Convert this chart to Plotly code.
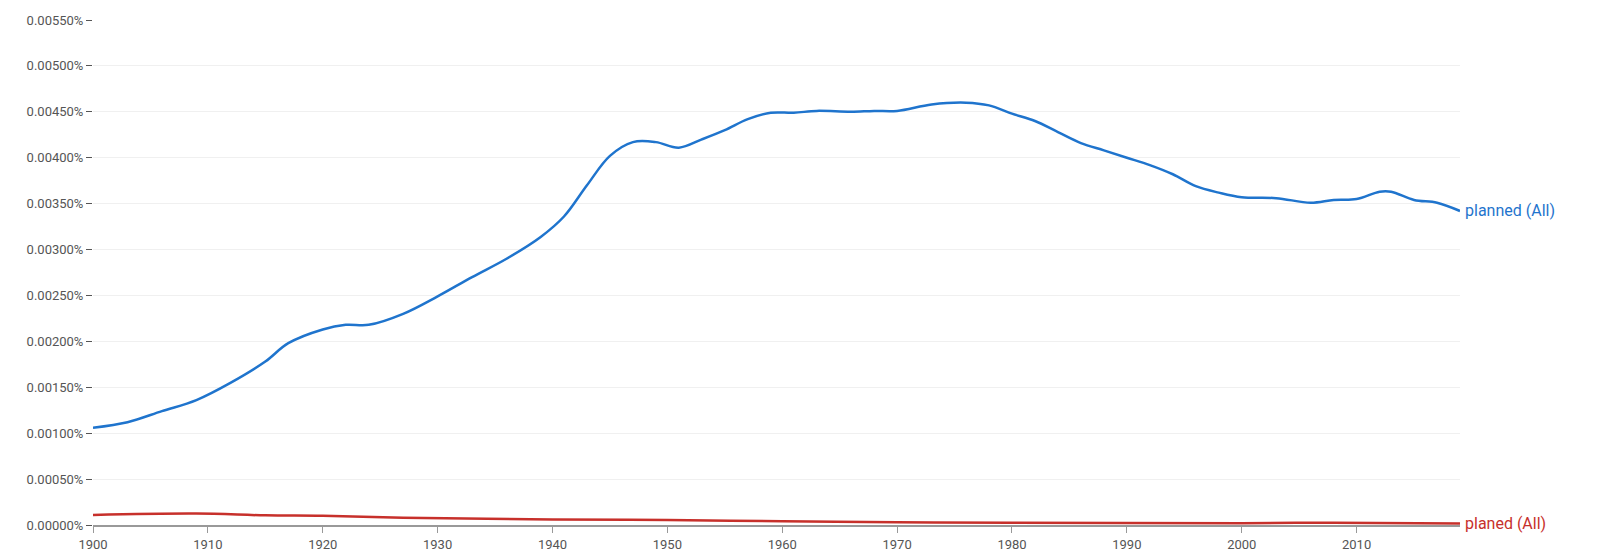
import plotly.graph_objects as go

## Data (percent)
planned_years = [1900, 1903, 1906, 1909, 1912, 1915, 1917, 1920, 1922, 1924, 1927, 1930, 1933, 1936,
                 1939, 1941, 1943, 1945, 1947, 1949, 1951, 1953, 1955, 1957, 1959, 1961, 1963, 1966,
                 1968, 1970, 1973, 1976, 1978, 1980, 1982, 1984, 1986, 1988, 1990, 1992, 1994, 1996,
                 1998, 2000, 2003, 2006, 2008, 2010, 2012, 2013, 2015, 2017, 2019]
planned_vals = [0.00106, 0.00112, 0.00124, 0.00136, 0.00155, 0.00178, 0.00198, 0.00213, 0.00218,
                0.00218, 0.00230, 0.00249, 0.00270, 0.00290, 0.00314, 0.00336, 0.00370, 0.00402,
                0.00417, 0.00417, 0.00411, 0.00420, 0.00430, 0.00442, 0.00449, 0.00449, 0.00451,
                0.00450, 0.00451, 0.00451, 0.00458, 0.00460, 0.00457, 0.00448, 0.00440, 0.00428,
                0.00416, 0.00408, 0.00400, 0.00392, 0.00382, 0.00369, 0.00362, 0.00357, 0.00356,
                0.00351, 0.00354, 0.00355, 0.00363, 0.00363, 0.00354, 0.00351, 0.00342]

planed_years = [1900, 1909, 1915, 1920, 1927, 1940, 1950, 1960, 1970, 1980, 2000, 2008, 2019]
planed_vals = [0.00011, 0.000125, 0.000105, 0.0001, 0.00008, 0.00006, 0.000055, 0.00004,
               0.00003, 0.000025, 0.00002, 0.000025, 0.000015]

y_ticks = [i * 0.0005 for i in range(12)]
y_labels = [f'{v:.5f}%' for v in y_ticks]

fig = go.Figure()
fig.add_trace(go.Scatter(x=planned_years, y=planned_vals, mode='lines',
                         line=dict(color='#1f74cd', width=2.5, shape='spline')))
fig.add_trace(go.Scatter(x=planed_years, y=planed_vals, mode='lines',
                         line=dict(color='#c7302b', width=2.5, shape='spline')))

# end-of-line labels
fig.add_annotation(x=planned_years[-1], y=planned_vals[-1], text='planned (All)', showarrow=False,
                   xanchor='left', xshift=3, font=dict(color='#1f74cd', size=16))
fig.add_annotation(x=planed_years[-1], y=planed_vals[-1], text='planed (All)', showarrow=False,
                   xanchor='left', xshift=3, font=dict(color='#c7302b', size=16))

fig.update_layout(
    width=1606, height=556, showlegend=False,
    plot_bgcolor='white', paper_bgcolor='white',
    margin=dict(l=85, r=154, t=12, b=39),
    font=dict(family='Roboto', size=13, color='#555'),
    xaxis=dict(range=[1900, 2019], tickvals=list(range(1900, 2020, 10)), showgrid=False,
               showline=True, linecolor='#999', linewidth=2, ticks='outside', ticklen=6,
               tickcolor='#999', zeroline=False, automargin=False),
    yaxis=dict(range=[0, 0.0055], tickvals=y_ticks, ticktext=y_labels,
               showgrid=True, gridcolor='#f0f0f0', ticks='outside', ticklen=6, tickcolor='#555',
               zeroline=False, automargin=False),
)

fig.write_html('out.html')
